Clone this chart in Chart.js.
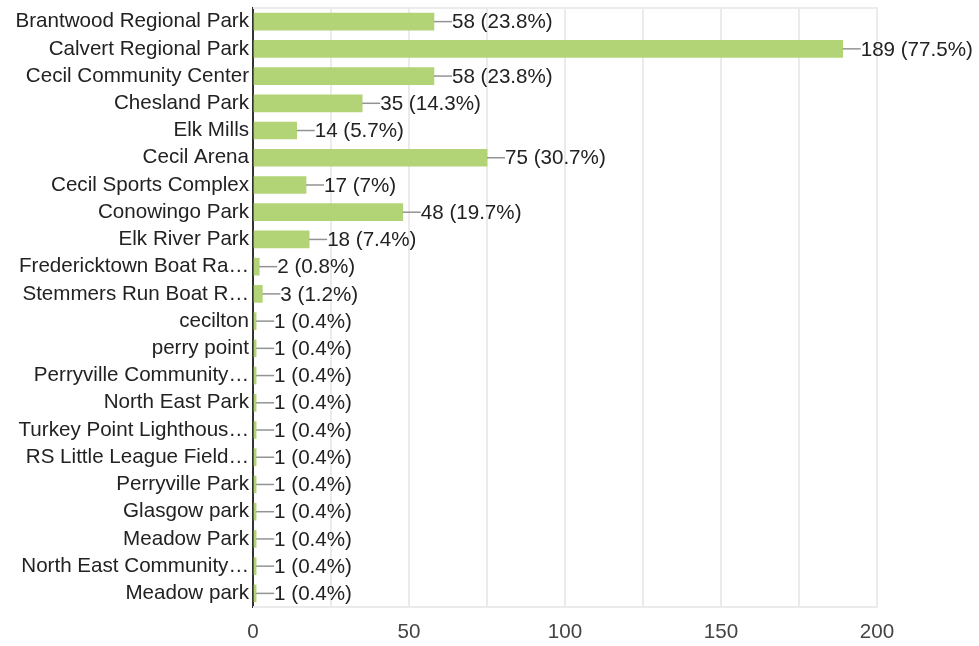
<!DOCTYPE html>
<html>
<head>
<meta charset="utf-8">
<script src="https://cdn.jsdelivr.net/npm/chart.js@4/dist/chart.umd.min.js"></script>
<style>
  html, body { margin: 0; padding: 0; background: #fff; }
  #wrap { width: 979px; height: 646px; position: relative; }
</style>
</head>
<body>
<div id="wrap"><canvas id="parkChart"></canvas></div>
<script>
// data
const parks = [
    'Brantwood Regional Park', 'Calvert Regional Park', 'Cecil Community Center',
    'Chesland Park', 'Elk Mills', 'Cecil Arena', 'Cecil Sports Complex',
    'Conowingo Park', 'Elk River Park', 'Fredericktown Boat Ra…',
    'Stemmers Run Boat R…', 'cecilton', 'perry point', 'Perryville Community…',
    'North East Park', 'Turkey Point Lighthous…', 'RS Little League Field…',
    'Perryville Park', 'Glasgow park', 'Meadow Park', 'North East Community…',
    'Meadow park'
];
const counts = [58, 189, 58, 35, 14, 75, 17, 48, 18, 2, 3, 1, 1, 1, 1, 1, 1, 1, 1, 1, 1, 1];
const percents = ['23.8%', '77.5%', '23.8%', '14.3%', '5.7%', '30.7%', '7%', '19.7%', '7.4%',
    '0.8%', '1.2%', '0.4%', '0.4%', '0.4%', '0.4%', '0.4%', '0.4%', '0.4%', '0.4%', '0.4%',
    '0.4%', '0.4%'];
const xTicks = [0, 50, 100, 150, 200];
const xGrid = [0, 25, 50, 75, 100, 125, 150, 175, 200];

const FONT = '"Liberation Sans", Arial, sans-serif';
const FSIZE = 20.6;

// light frame on top, right and bottom of the plot area
const frame = {
    id: 'frame',
    beforeDatasetsDraw(chart) {
        const { ctx, chartArea: a } = chart;
        ctx.save();
        ctx.strokeStyle = '#ebebeb';
        ctx.lineWidth = 2;
        ctx.beginPath();
        ctx.moveTo(a.left, a.top);
        ctx.lineTo(a.right, a.top);
        ctx.lineTo(a.right, a.bottom);
        ctx.lineTo(a.left, a.bottom);
        ctx.stroke();
        ctx.restore();
    }
};

// leader line + "n (p%)" after each bar
const valueLabels = {
    id: 'valueLabels',
    afterDatasetsDraw(chart) {
        const ctx = chart.ctx;
        const meta = chart.getDatasetMeta(0);
        ctx.save();
        ctx.font = FSIZE + 'px ' + FONT;
        ctx.textBaseline = 'middle';
        ctx.textAlign = 'left';
        meta.data.forEach((bar, i) => {
            const x = bar.x;
            const y = bar.y;
            ctx.strokeStyle = '#939393';
            ctx.lineWidth = 1.5;
            ctx.beginPath();
            ctx.moveTo(x, y);
            ctx.lineTo(x + 18, y);
            ctx.stroke();
            ctx.fillStyle = '#222';
            ctx.fillText(counts[i] + ' (' + percents[i] + ')', x + 18, y + 1);
        });
        ctx.restore();
    }
};

new Chart(document.getElementById('parkChart'), {
    type: 'bar',
    data: {
        labels: parks,
        datasets: [{
            data: counts,
            backgroundColor: '#b2d476',
            barThickness: 17
        }]
    },
    options: {
        indexAxis: 'y',
        responsive: true,
        maintainAspectRatio: false,
        animation: false,
        layout: { padding: { top: 8, right: 102, bottom: 0, left: 0 } },
        scales: {
            x: {
                min: 0,
                max: 200,
                afterBuildTicks: axis => {
                    axis.ticks = xGrid.map(v => ({ value: v }));
                },
                afterFit: axis => {
                    axis.height = 39;
                    axis.paddingLeft = 0;
                    axis.paddingRight = 0;
                },
                grid: {
                    drawTicks: false,
                    color: '#ebebeb',
                    lineWidth: 2
                },
                border: { display: false },
                ticks: {
                    padding: 13,
                    color: '#444',
                    font: { family: FONT, size: FSIZE },
                    callback: v => (xTicks.includes(v) ? String(v) : '')
                }
            },
            y: {
                afterFit: axis => {
                    axis.width = 253;
                    axis.paddingTop = 0;
                    axis.paddingBottom = 0;
                },
                grid: { display: false, drawTicks: false },
                border: { display: true, color: '#333', width: 2 },
                ticks: {
                    autoSkip: false,
                    padding: 4,
                    color: '#222',
                    font: { family: FONT, size: FSIZE }
                }
            }
        },
        plugins: {
            legend: { display: false },
            tooltip: { enabled: false }
        }
    },
    plugins: [frame, valueLabels]
});
</script>
</body>
</html>
